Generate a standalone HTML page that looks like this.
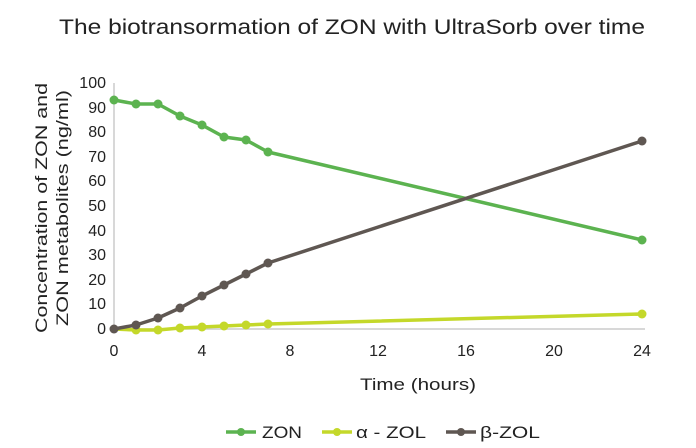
<!DOCTYPE html>
<html><head><meta charset="utf-8"><style>body{margin:0;background:#fff}svg{display:block}text{font-family:"Liberation Sans",sans-serif;fill:#222}</style></head><body>
<svg width="696" height="448" xmlns="http://www.w3.org/2000/svg">
<text x="352" y="34" font-size="21" text-anchor="middle" textLength="586" lengthAdjust="spacingAndGlyphs">The biotransormation of ZON with UltraSorb over time</text>
<line x1="114" y1="83" x2="114" y2="329" stroke="#ccc" stroke-width="1.5"/>
<line x1="114" y1="329" x2="645" y2="329" stroke="#ccc" stroke-width="1.5"/>
<g font-size="16" text-anchor="end">
<text x="106" y="334">0</text><text x="106" y="309">10</text><text x="106" y="285">20</text><text x="106" y="260">30</text><text x="106" y="236">40</text><text x="106" y="211">50</text><text x="106" y="186">60</text><text x="106" y="162">70</text><text x="106" y="137">80</text><text x="106" y="113">90</text><text x="106" y="88">100</text>
</g>
<g font-size="16" text-anchor="middle">
<text x="114" y="356">0</text><text x="202" y="356">4</text><text x="290" y="356">8</text><text x="378" y="356">12</text><text x="466" y="356">16</text><text x="554" y="356">20</text><text x="642" y="356">24</text>
</g>
<text x="418" y="390" font-size="17" text-anchor="middle" textLength="116" lengthAdjust="spacingAndGlyphs">Time (hours)</text>
<text transform="translate(47,208) rotate(-90)" font-size="17" text-anchor="middle" textLength="250" lengthAdjust="spacingAndGlyphs">Concentration of ZON and</text>
<text transform="translate(68,208) rotate(-90)" font-size="17" text-anchor="middle" textLength="236" lengthAdjust="spacingAndGlyphs">ZON metabolites (ng/ml)</text>
<g stroke-width="3.5" fill="none" stroke-linejoin="round">
<polyline stroke="#5cb350" points="114,100 136,104 158,104 180,116 202,125 224,137 246,140 268,152 642,240"/>
<polyline stroke="#c4d82a" points="114,329 136,330 158,330 180,328 202,327 224,326 246,325 268,324 642,314"/>
<polyline stroke="#5f5752" points="114,329 136,325 158,318 180,308 202,296 224,285 246,274 268,263 642,141"/>
</g>
<g fill="#5cb350"><circle cx="114" cy="100" r="4.5"/><circle cx="136" cy="104" r="4.5"/><circle cx="158" cy="104" r="4.5"/><circle cx="180" cy="116" r="4.5"/><circle cx="202" cy="125" r="4.5"/><circle cx="224" cy="137" r="4.5"/><circle cx="246" cy="140" r="4.5"/><circle cx="268" cy="152" r="4.5"/><circle cx="642" cy="240" r="4.5"/></g>
<g fill="#c4d82a"><circle cx="136" cy="330" r="4.5"/><circle cx="158" cy="330" r="4.5"/><circle cx="180" cy="328" r="4.5"/><circle cx="202" cy="327" r="4.5"/><circle cx="224" cy="326" r="4.5"/><circle cx="246" cy="325" r="4.5"/><circle cx="268" cy="324" r="4.5"/><circle cx="642" cy="314" r="4.5"/></g>
<g fill="#5f5752"><circle cx="114" cy="329" r="4.5"/><circle cx="136" cy="325" r="4.5"/><circle cx="158" cy="318" r="4.5"/><circle cx="180" cy="308" r="4.5"/><circle cx="202" cy="296" r="4.5"/><circle cx="224" cy="285" r="4.5"/><circle cx="246" cy="274" r="4.5"/><circle cx="268" cy="263" r="4.5"/><circle cx="642" cy="141" r="4.5"/></g>
<g stroke-width="3.5">
<line x1="226" y1="432" x2="256" y2="432" stroke="#5cb350"/><circle cx="241" cy="432" r="4" fill="#5cb350"/>
<line x1="322" y1="432" x2="352" y2="432" stroke="#c4d82a"/><circle cx="337" cy="432" r="4" fill="#c4d82a"/>
<line x1="446" y1="432" x2="476" y2="432" stroke="#5f5752"/><circle cx="461" cy="432" r="4" fill="#5f5752"/>
</g>
<g font-size="17"><text x="262" y="438" textLength="40" lengthAdjust="spacingAndGlyphs">ZON</text><text x="356" y="438" textLength="70" lengthAdjust="spacingAndGlyphs">α - ZOL</text><text x="480" y="438" textLength="60" lengthAdjust="spacingAndGlyphs">β-ZOL</text></g>
</svg>
</body></html>
